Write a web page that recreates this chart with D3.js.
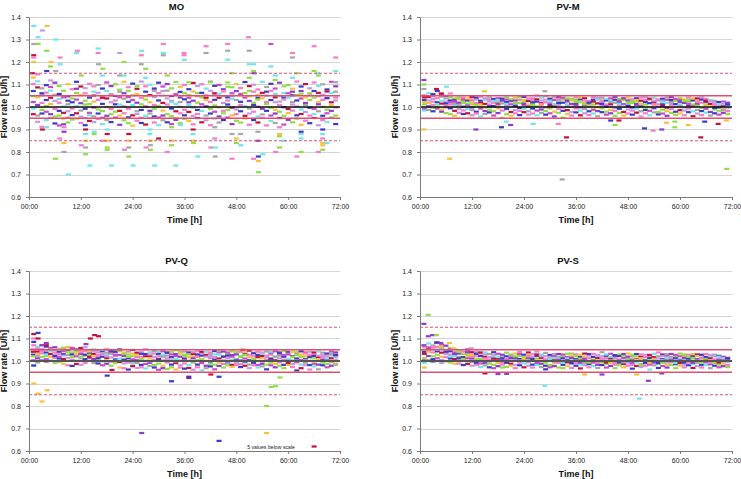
<!DOCTYPE html>
<html><head><meta charset="utf-8">
<script src="https://cdn.jsdelivr.net/npm/d3@7"></script>
<style>
body{margin:0;background:#fff}
svg{display:block}
text{font-family:"Liberation Sans",Arial,sans-serif}
</style>
</head><body>
<svg id="c" width="741" height="479"></svg>
<script>
// ---------------- data ----------------
const timeTicks = [0, 12, 24, 36, 48, 60, 72];
const timeLabels = ["00:00", "12:00", "24:00", "36:00", "48:00", "60:00", "72:00"];
const flowTicks = [0.6, 0.7, 0.8, 0.9, 1.0, 1.1, 1.2, 1.3, 1.4];
const targetLevel = 1.0;
const innerLimits = [0.95, 1.05];
const outerLimits = [0.85, 1.15];
const panelTitles = ["MO", "PV-M", "PV-Q", "PV-S"];
const belowScaleNote = "5 values below scale";

// dense readings: one row per hour (row index 0 = 01:00), values in U/h
const moBand = [
[1.102,1.071,1.048,1.022,0.993,0.968,1.131],[1.114,1.087,1.043,1.009,0.962,0.934],[1.083,1.052,1.018,0.987,0.971,0.912,1.061],
[1.097,1.064,1.031,1.004,0.979,0.942],[1.089,1.073,1.041,1.013,0.968,0.951,1.118],[1.108,1.054,1.027,0.991,0.958,0.927],
[1.093,1.058,1.019,0.983,0.962,0.918,1.036],[1.072,1.043,1.002,0.974,0.949,0.923],[1.101,1.047,1.012,0.981,0.953,0.931,1.028],
[1.079,1.038,1.021,0.993,0.964,0.944],[1.112,1.062,1.033,1.003,0.972,0.948,1.081],[1.091,1.053,1.017,0.984,0.957,0.929],
[1.084,1.061,1.028,0.992,0.951,0.919,1.011],[1.103,1.042,1.013,0.974,0.963,0.938],[1.068,1.051,1.024,0.998,0.958,0.933,1.092],
[1.098,1.063,1.032,0.989,0.971,0.947],[1.082,1.047,1.014,0.982,0.952,0.924,1.041],[1.109,1.071,1.038,1.001,0.961,0.942],
[1.093,1.057,1.021,0.991,0.968,0.933,1.052],[1.101,1.049,1.029,1.012,0.979,0.953],[1.077,1.043,1.011,0.983,0.962,0.921,1.068],
[1.112,1.061,1.037,1.003,0.972,0.941],[1.088,1.072,1.023,0.992,0.954,0.928,1.044],[1.104,1.052,1.031,1.009,0.963,0.917],
[1.081,1.058,1.019,0.981,0.969,0.939,1.093],[1.113,1.041,1.012,0.987,0.952,0.929],[1.092,1.068,1.033,1.002,0.961,0.922,1.048],
[1.099,1.053,1.021,0.983,0.971,0.951],[1.072,1.044,1.009,0.992,0.958,0.931,1.082],[1.108,1.062,1.029,1.004,0.953,0.919],
[1.091,1.051,1.018,0.984,0.962,0.941,1.071],[1.102,1.073,1.038,1.011,0.968,0.932],[1.083,1.049,1.027,0.993,0.959,0.924,1.022],
[1.111,1.057,1.013,0.981,0.951,0.943],[1.089,1.042,1.022,1.001,0.972,0.928,1.067],[1.098,1.061,1.034,0.988,0.963,0.947],
[1.079,1.053,1.041,1.009,0.978,0.938,1.021],[1.107,1.069,1.028,0.998,0.961,0.923],[1.093,1.048,1.019,0.987,0.969,0.951,1.062],
[1.101,1.063,1.043,1.012,0.982,0.932],[1.082,1.041,1.031,1.003,0.962,0.941,1.052],[1.113,1.072,1.022,0.991,0.971,0.919],
[1.094,1.052,1.032,1.007,0.979,0.948,1.061],[1.098,1.059,1.041,0.998,0.958,0.931],[1.079,1.048,1.018,0.983,0.972,0.942,1.069],
[1.109,1.043,1.029,1.011,0.987,0.953],[1.088,1.061,1.037,0.997,0.963,0.924,1.049],[1.102,1.071,1.031,0.989,0.968,0.939],
[1.084,1.052,1.023,1.008,0.981,0.931,1.058],[1.111,1.062,1.042,1.003,0.961,0.949],[1.093,1.048,1.027,0.993,0.971,0.921,1.072],
[1.099,1.068,1.019,1.009,0.979,0.942],[1.078,1.041,1.033,1.001,0.958,0.931,1.053],[1.112,1.063,1.039,0.992,0.967,0.952],
[1.089,1.051,1.022,1.013,0.983,0.918,1.068],[1.103,1.072,1.031,0.997,0.962,0.938],[1.082,1.058,1.043,0.988,0.971,0.929,1.021],
[1.108,1.049,1.024,1.008,0.979,0.951],[1.092,1.042,1.033,0.999,0.961,0.922,1.062],[1.098,1.061,1.041,0.991,0.973,0.943],
[1.081,1.068,1.022,1.011,0.984,0.932,1.052],[1.113,1.053,1.029,1.002,0.963,0.948],[1.091,1.059,1.038,0.989,0.969,0.921,1.071],
[1.102,1.043,1.018,1.009,0.978,0.939],[1.083,1.052,1.031,0.997,0.962,0.928,1.061],[1.109,1.071,1.042,0.992,0.968,0.951],
[1.093,1.063,1.023,1.012,0.981,0.919,1.048],[1.101,1.054,1.032,1.001,0.961,0.942],[1.078,1.041,1.039,0.988,0.972,0.933,1.069],
[1.112,1.062,1.021,1.008,0.983,0.953],[1.092,1.068,1.029,0.998,0.962,0.924,1.042]
];
// isolated readings: [hour, value, colour index]
const moOut = [
[1.1,1.36,1],[3.1,1.34,9],[4.2,1.36,2],[2.1,1.31,1],[6.2,1.30,1],[1.1,1.28,4],[2.1,1.28,3],[4.1,1.25,3],
[11.2,1.25,0],[11.0,1.24,1],[16.0,1.26,1],[16.0,1.24,0],[21.0,1.24,9],[26.1,1.25,1],[26.0,1.23,0],
[31.1,1.28,0],[31.1,1.24,1],[31.1,1.23,4],[35.9,1.24,0],[35.9,1.23,0],[36.0,1.21,1],
[1.1,1.23,7],[1.1,1.22,0],[1.1,1.20,2],[5.1,1.20,2],[7.2,1.22,0],[7.2,1.19,1],[5.0,1.18,3],[4.1,1.16,5],[6.2,1.16,4],
[17.1,1.17,3],[16.1,1.19,4],[22.0,1.20,3],[26.0,1.19,4],[27.0,1.17,3],[12.1,1.14,3],[17.0,1.14,1],[21.0,1.14,4],
[22.0,1.14,1],[27.0,1.13,1],[32.0,1.14,3],[0.8,1.15,7],[2.0,1.145,0],
[50.8,1.31,0],[56.0,1.28,8],[41.0,1.27,0],[46.0,1.28,0],[46.0,1.25,4],[51.0,1.25,4],[61.0,1.24,0],[61.0,1.22,4],
[66.0,1.27,0],[71.0,1.22,0],[41.0,1.24,4],[46.0,1.21,1],[51.0,1.19,1],[52.0,1.19,1],[56.0,1.18,1],[51.0,1.13,3],
[52.0,1.16,3],[52.1,1.15,6],[57.0,1.14,1],[57.0,1.12,3],[61.0,1.13,1],[62.0,1.15,3],[66.0,1.16,3],[66.8,1.15,1],
[67.0,1.14,3],[71.0,1.16,1],[47.0,1.15,3],[42.0,1.11,3],[46.0,1.09,3],[71.0,1.11,4],[37.0,1.11,3],
[9.1,0.70,1],[6.1,0.77,3],[8.1,0.80,4],[14.1,0.74,1],[13.1,0.79,3],[19.1,0.74,1],[23.1,0.78,3],[24.1,0.74,1],
[29.1,0.74,1],[34.0,0.74,1],[8.1,0.84,2],[7.1,0.86,0],[12.1,0.83,0],[13.1,0.82,4],[18.1,0.82,3],[18.1,0.81,3],
[17.1,0.85,0],[18.1,0.85,2],[13.1,0.85,2],[23.1,0.85,2],[23.1,0.82,4],[22.1,0.81,0],[28.1,0.85,2],[28.1,0.83,4],
[27.1,0.82,0],[28.1,0.81,3],[30.0,0.86,7],[33.0,0.85,2],[33.0,0.83,3],[32.0,0.80,0],
[8.1,0.91,0],[8.1,0.89,6],[3.1,0.90,7],[4.1,0.91,1],[13.1,0.90,7],[18.1,0.88,7],[23.1,0.88,7],[18.1,0.90,1],
[13.1,0.88,1],[15.1,0.88,3],[15.1,0.89,1],[28.0,0.88,1],[28.0,0.90,1],[33.0,0.91,3],[35.1,0.92,1],
[39.1,0.78,1],[43.1,0.78,4],[47.0,0.77,0],[53.1,0.76,2],[53.1,0.71,3],[53.1,0.78,5],[54.1,0.79,1],[52.0,0.77,0],
[57.1,0.80,0],[62.0,0.78,0],[63.0,0.80,3],[67.0,0.80,0],[42.1,0.82,0],[43.1,0.82,1],[38.1,0.84,3],[38.0,0.85,2],
[48.0,0.86,2],[48.0,0.84,3],[49.0,0.83,1],[58.0,0.82,3],[59.0,0.85,1],[68.0,0.84,2],[68.0,0.83,2],[68.0,0.81,3],
[69.0,0.84,1],[68.0,0.88,1],[68.0,0.90,5],[68.0,0.86,0],[63.0,0.88,1],[63.0,0.86,1],[63.0,0.89,5],[58.0,0.88,2],
[58.0,0.87,3],[58.0,0.91,0],[53.0,0.89,4],[53.0,0.85,6],[49.0,0.88,4],[43.0,0.91,4],[43.0,0.86,0],[38.0,0.90,7],
[38.0,0.88,1],[47.0,0.88,4]
];

const pvmBand = [
[1.052,1.031,1.012,0.991,0.984,1.043,1.022],[1.061,1.044,1.018,1.003,0.987,1.029],[1.048,1.036,1.009,0.996,0.981,1.024,1.057],
[1.071,1.039,1.021,1.002,0.993,1.013],[1.058,1.027,1.015,0.989,0.979,1.046],[1.049,1.038,1.024,1.006,0.973,1.016,0.998],
[1.043,1.029,1.011,0.994,0.968,1.021],[1.038,1.022,1.004,0.983,0.961,1.031,1.014],[1.034,1.019,1.008,0.992,0.974,1.042],
[1.041,1.026,1.001,0.985,0.969,1.017,1.033],[1.029,1.015,1.007,0.991,0.972,1.038],[1.044,1.023,0.998,0.986,0.963,1.031,1.012],
[1.033,1.017,1.009,0.979,0.971,1.042],[1.046,1.028,1.002,0.993,0.958,1.019,1.011],[1.031,1.014,0.997,0.982,0.969,1.039],
[1.042,1.024,1.011,0.988,0.976,1.032,1.003],[1.036,1.019,1.004,0.981,0.962,1.027],[1.039,1.031,1.013,0.994,0.973,1.021,1.006],
[1.028,1.016,0.999,0.984,0.952,1.037],[1.043,1.022,1.008,0.991,0.968,1.033,1.014],[1.034,1.012,1.001,0.978,0.961,1.026],
[1.041,1.029,1.013,0.986,0.972,1.019,1.004],[1.032,1.018,0.996,0.983,0.964,1.044],[1.045,1.023,1.009,0.992,0.977,1.031,1.014],
[1.027,1.011,1.002,0.981,0.966,1.038],[1.039,1.032,1.014,0.993,0.971,1.021,1.006],[1.051,1.024,1.003,0.984,0.963,1.034],
[1.042,1.017,1.008,0.989,0.974,1.029,1.013],[1.048,1.033,0.998,0.982,0.966,1.021],[1.037,1.021,1.011,0.994,0.972,1.027,1.004],
[1.031,1.013,1.002,0.979,0.958,1.043],[1.044,1.028,1.009,0.991,0.974,1.018,1.036],[1.033,1.019,0.997,0.983,0.953,1.041],
[1.038,1.024,1.012,0.986,0.969,1.029,1.003],[1.029,1.014,1.001,0.978,0.962,1.037],[1.042,1.031,1.013,0.993,0.976,1.022,1.006],
[1.034,1.021,0.998,0.984,0.963,1.042],[1.039,1.018,1.009,0.991,0.972,1.028,1.012],[1.027,1.012,1.003,0.981,0.964,1.019],
[1.043,1.032,1.011,0.988,0.971,1.024,0.997],[1.033,1.016,0.999,0.982,0.959,1.041],[1.041,1.023,1.008,0.994,0.977,1.029,1.014],
[1.029,1.011,1.002,0.979,0.966,1.036],[1.038,1.027,1.013,0.987,0.972,1.021,1.004],[1.044,1.019,0.996,0.983,0.961,1.032],
[1.036,1.022,1.007,0.992,0.974,1.028,1.015],[1.031,1.013,1.001,0.978,0.962,1.039],[1.042,1.029,1.012,0.989,0.971,1.019,1.004],
[1.034,1.018,0.998,0.984,0.966,1.026],[1.039,1.024,1.009,0.993,0.975,1.031,1.013],[1.028,1.014,1.003,0.981,0.958,1.042],
[1.043,1.031,1.011,0.987,0.972,1.022,0.997],[1.033,1.017,0.999,0.983,0.963,1.037],[1.041,1.023,1.008,0.994,0.976,1.028,1.013],
[1.029,1.012,1.002,0.978,0.967,1.034],[1.037,1.026,1.014,0.988,0.971,1.021,1.005],[1.032,1.019,0.997,0.982,0.961,1.042],
[1.044,1.022,1.009,0.991,0.974,1.031,1.014],[1.027,1.013,1.001,0.979,0.965,1.036],[1.039,1.031,1.012,0.986,0.972,1.023,1.004],
[1.034,1.018,0.998,0.984,0.963,1.027],[1.042,1.024,1.007,0.993,0.977,1.031,1.014],[1.029,1.011,1.003,0.981,0.959,1.038],
[1.038,1.027,1.013,0.987,0.971,1.022,1.006],[1.043,1.019,0.996,0.982,0.964,1.033],[1.036,1.023,1.008,0.992,0.975,1.028,1.012],
[1.031,1.014,1.002,0.978,0.962,1.026],[1.027,1.019,1.011,0.989,0.972,1.004,0.996],[1.022,1.009,0.998,0.983,0.966,1.013],
[1.024,1.013,1.003,0.991,0.974,0.986,1.017],[1.019,1.008,0.997,0.982,0.969,1.011]
];
const pvmOut = [
[0.9,1.12,6],[0.9,1.10,3],[0.9,1.08,4],[0.9,0.90,2],[3.8,1.08,7],[4.9,1.06,7],[6.1,1.09,1],[7.0,1.06,0],
[14.9,1.07,2],[12.9,0.90,6],[18.8,0.91,5],[19.9,0.935,1],[20.9,0.92,6],[26.1,0.925,1],[28.8,1.07,4],[31.9,0.925,0],
[33.8,0.865,7],[44.0,0.94,5],[45.0,0.92,3],[45.9,0.94,7],[51.8,0.905,5],[53.8,0.895,0],[55.8,0.90,6],[56.9,0.93,2],
[58.8,0.91,3],[58.8,0.935,3],[61.9,0.92,2],[64.8,0.865,7],[65.7,0.935,5],[68.8,0.925,7],[70.7,0.94,2],[70.8,0.725,3],
[6.8,0.77,2],[32.8,0.678,4]
];

const pvqBand = [
[1.052,1.028,1.021,1.003,0.979,1.041],[1.063,1.042,1.031,1.012,0.993,1.022,1.054],[1.071,1.053,1.034,1.018,1.002,1.044],
[1.064,1.048,1.037,1.023,1.008,1.029,0.998],[1.058,1.043,1.031,1.019,1.001,1.052],[1.061,1.049,1.028,1.014,0.992,1.022,1.038],
[1.054,1.041,1.032,1.011,0.997,1.019],[1.059,1.044,1.024,1.009,0.988,1.031,1.051],[1.062,1.048,1.027,1.013,0.981,1.039],
[1.054,1.038,1.029,1.006,0.978,1.018,1.058],[1.051,1.042,1.021,1.002,0.987,1.033],[1.058,1.047,1.031,1.012,0.983,1.039,1.019],
[1.061,1.043,1.024,1.008,0.992,1.028],[1.048,1.037,1.026,1.013,1.001,1.019,1.042],[1.052,1.032,1.021,1.009,0.991,1.044],
[1.047,1.038,1.018,1.002,0.989,1.027,1.012],[1.043,1.031,1.019,0.998,0.981,1.049],[1.051,1.029,1.013,1.003,0.988,1.037,1.021],
[1.039,1.032,1.016,0.997,0.979,1.046],[1.048,1.041,1.022,1.007,0.991,1.028,1.001],[1.044,1.027,1.011,0.996,0.971,1.052],
[1.038,1.023,1.009,0.989,0.968,1.031,1.004],[1.042,1.029,1.012,0.993,0.962,1.018],[1.049,1.021,1.007,0.988,0.977,1.033,0.999],
[1.037,1.026,1.003,0.991,0.969,1.017],[1.041,1.019,1.008,0.983,0.972,1.032,1.001],[1.052,1.031,1.002,0.987,0.967,1.021],
[1.039,1.022,1.011,0.992,0.978,1.029,0.998],[1.044,1.018,1.004,0.982,0.971,1.033],[1.032,1.021,1.009,0.988,0.961,1.041,1.002],
[1.043,1.027,1.001,0.979,0.968,1.019],[1.036,1.024,1.012,0.993,0.964,1.038,1.003],[1.041,1.017,1.003,0.984,0.972,1.029],
[1.048,1.022,1.009,0.991,0.962,1.031,0.998],[1.033,1.019,1.002,0.981,0.971,1.042],[1.042,1.023,1.011,0.989,0.966,1.028,1.004],
[1.038,1.029,1.001,0.982,0.969,1.017],[1.031,1.021,1.012,0.993,0.961,1.039,0.997],[1.043,1.018,1.004,0.984,0.972,1.029],
[1.036,1.024,1.009,0.991,0.958,1.041,1.002],[1.041,1.027,1.001,0.979,0.968,1.019],[1.032,1.022,1.013,0.988,0.976,1.038,0.998],
[1.044,1.017,1.006,0.983,0.963,1.029],[1.038,1.028,1.011,0.992,0.978,1.043,1.003],[1.042,1.021,1.003,0.987,0.971,1.019],
[1.031,1.024,1.012,0.994,0.981,1.038,0.998],[1.043,1.019,1.006,0.983,0.974,1.027],[1.037,1.029,1.009,0.991,0.982,1.041,1.002],
[1.041,1.022,1.002,0.986,0.973,1.018],[1.033,1.026,1.011,0.993,0.979,1.039,0.997],[1.046,1.018,1.004,0.984,0.968,1.028],
[1.038,1.021,1.009,0.992,0.981,1.034,1.003],[1.041,1.027,1.001,0.982,0.971,1.017],[1.029,1.022,1.012,0.988,0.976,1.038,0.998],
[1.042,1.017,1.006,0.984,0.963,1.024],[1.037,1.028,1.011,0.993,0.981,1.041,1.003],[1.043,1.021,1.003,0.987,0.972,1.019],
[1.032,1.024,1.012,0.994,0.979,1.038,0.997],[1.044,1.019,1.006,0.983,0.968,1.027],[1.036,1.029,1.009,0.991,0.982,1.041,1.002],
[1.041,1.022,1.002,0.986,0.973,1.018],[1.031,1.026,1.011,0.993,0.958,1.039,0.997],[1.043,1.018,1.004,0.984,0.968,1.028],
[1.037,1.021,1.009,0.992,0.981,1.034,1.003],[1.041,1.027,1.001,0.982,0.962,1.017],[1.029,1.022,1.012,0.988,0.976,1.038,0.998],
[1.042,1.017,1.006,0.984,0.963,1.024],[1.037,1.028,1.011,0.993,0.981,1.019,1.003],[1.033,1.021,1.003,0.987,0.972,1.012],
[1.042,1.024,1.012,0.994,0.979,1.031,0.997],[1.038,1.019,1.006,0.983,0.988,1.027]
];
const pvqOut = [
[1.1,1.12,7],[2.1,1.125,5],[1.1,1.10,0],[2.1,1.10,7],[1.1,1.085,5],[1.1,1.07,0],[1.1,0.98,5],[1.1,0.90,2],
[2.1,0.855,2],[4.2,0.87,2],[3.0,0.82,2],[14.2,1.10,7],[15.2,1.115,7],[16.1,1.11,7],[13.2,1.075,6],[19.2,0.96,7],
[18.1,0.935,5],[26.1,0.68,6],[33.0,0.91,5],[37.0,0.925,7],[37.0,0.93,5],[44.0,0.645,5],[42.1,0.94,7],[44.0,0.93,5],
[55.0,0.80,3],[55.0,0.68,2],[56.1,0.885,3],[57.1,0.888,3],[58.1,0.927,3],[66.0,0.62,7],[49.5,1.05,7],[4.0,1.08,6],
[4.0,1.07,7],[3.0,1.07,6]
];

const pvsBand = [
[1.063,1.041,1.012,1.003,0.992,1.032,0.971],[1.078,1.058,1.041,1.022,1.004,1.049],[1.069,1.052,1.038,1.021,1.008,1.061,0.998],
[1.082,1.063,1.043,1.028,1.012,1.051],[1.072,1.054,1.037,1.019,1.002,1.061,0.991],[1.068,1.049,1.031,1.017,0.998,1.041],
[1.058,1.043,1.028,1.011,0.993,1.052,1.021],[1.052,1.038,1.022,1.009,0.988,1.031],[1.048,1.033,1.018,1.002,0.989,1.041,1.012],
[1.042,1.031,1.017,1.001,0.982,1.009],[1.051,1.029,1.012,0.998,0.987,1.022,1.039],[1.039,1.027,1.011,0.996,0.979,1.018],
[1.041,1.021,1.008,0.991,0.983,1.032,1.002],[1.033,1.022,1.009,0.989,0.973,1.038],[1.038,1.019,1.003,0.992,0.981,1.029,1.011],
[1.031,1.018,1.007,0.988,0.972,0.998],[1.039,1.027,1.002,0.983,0.968,1.021,1.011],[1.032,1.019,1.008,0.991,0.977,1.001],
[1.028,1.017,1.003,0.984,0.971,1.011,0.993],[1.037,1.021,1.009,0.992,0.974,1.002],[1.029,1.018,1.001,0.988,0.979,1.012,1.024],
[1.033,1.013,1.004,0.983,0.968,1.021],[1.041,1.022,1.009,0.993,0.981,1.002,1.031],[1.028,1.017,1.003,0.989,0.972,1.011],
[1.038,1.027,1.012,0.994,0.979,1.021,1.004],[1.031,1.019,1.001,0.984,0.971,1.009],[1.042,1.023,1.011,0.991,0.982,1.029,1.003],
[1.029,1.014,1.002,0.988,0.973,1.021],[1.036,1.021,1.008,0.993,0.979,1.004,0.963],[1.027,1.018,1.001,0.982,0.972,1.011],
[1.022,1.013,1.003,0.989,0.977,1.031,0.996],[1.031,1.019,1.009,0.992,0.971,1.002],[1.021,1.012,1.001,0.983,0.968,1.029,0.993],
[1.032,1.018,1.011,0.994,0.978,1.004],[1.023,1.014,1.002,0.987,0.969,1.033,0.991],[1.029,1.021,1.008,0.991,0.979,1.002],
[1.018,1.011,1.003,0.984,0.967,1.028,0.993],[1.033,1.019,1.009,0.992,0.981,1.001],[1.024,1.012,0.998,0.986,0.972,1.031,0.993],
[1.031,1.018,1.006,0.993,0.978,1.001],[1.022,1.013,1.002,0.983,0.969,1.027,0.991],[1.039,1.021,1.011,0.994,0.982,1.003],
[1.023,1.014,1.001,0.987,0.971,1.029,0.993],[1.032,1.018,1.009,0.991,0.978,1.003],[1.021,1.011,0.998,0.984,0.968,1.026,0.992],
[1.029,1.022,1.007,0.993,0.981,1.002],[1.024,1.013,1.003,0.987,0.972,1.031,0.994],[1.033,1.019,1.008,0.992,0.979,1.001],
[1.022,1.011,1.002,0.983,0.966,1.028,0.991],[1.031,1.021,1.009,0.994,0.978,1.004],[1.019,1.012,1.001,0.986,0.973,1.029,0.982],
[1.028,1.018,1.006,0.991,0.979,1.002],[1.023,1.013,1.003,0.984,0.962,1.027,0.993],[1.032,1.017,1.009,0.993,0.981,1.001],
[1.021,1.011,0.998,0.987,0.969,1.038,0.991],[1.029,1.022,1.008,0.992,0.978,1.003],[1.024,1.013,1.002,0.983,0.971,1.031,0.993],
[1.031,1.018,1.009,0.994,0.982,1.002],[1.022,1.012,1.001,0.986,0.968,1.027,0.991],[1.033,1.021,1.007,0.991,0.979,1.003],
[1.023,1.014,1.003,0.984,0.972,1.029,0.993],[1.028,1.019,1.009,0.993,0.981,1.001],[1.021,1.011,0.998,0.987,0.969,1.031,0.992],
[1.029,1.022,1.008,0.992,0.978,1.002],[1.024,1.013,1.003,0.983,0.971,1.028,0.993],[1.031,1.018,1.009,0.994,0.982,1.001],
[1.022,1.012,1.001,0.986,0.968,1.027,0.991],[1.028,1.021,1.007,0.991,0.979,1.003],[1.023,1.014,1.003,0.984,0.972,1.019,0.993],
[1.019,1.011,1.002,0.988,0.977,0.998],[1.014,1.008,0.997,0.983,0.973,1.011]
];
const pvsOut = [
[1.9,1.205,3],[0.9,1.165,6],[1.9,1.11,6],[2.9,1.115,6],[3.8,1.115,3],[3.8,1.082,5],[4.8,1.08,6],[6.8,1.08,2],
[4.8,1.065,2],[7.7,1.056,2],[11.8,1.056,0],[28.8,0.89,1],[50.6,0.833,1],[52.7,0.912,6],[50.0,0.94,2],[15.0,0.945,7],
[20.0,0.943,6],[18.0,0.942,6],[38.0,0.94,2],[42.0,0.94,6],[55.8,0.945,6],[0.9,1.07,6],[0.9,1.05,2],[2.0,1.06,8]
];

// ---------------- style ----------------
const palette = ["#f47cc8","#6ee6ee","#f6c23e","#92dc48","#a6a6a6","#3a3ac4","#8a3ed0","#c4103c","#c84cc8","#c49ae6"];
const bandColourOrder = [0,5,3,8,1,7,2,6,4,9,0,3,5];

const panels = [
  {title: panelTitles[0], band: moBand,  out: moOut,  x0: 29,  x1: 340, y0: 17,  y1: 197, ref: "#111", refW: 1.5},
  {title: panelTitles[1], band: pvmBand, out: pvmOut, x0: 420, x1: 732, y0: 17,  y1: 197, ref: "#111", refW: 1.5},
  {title: panelTitles[2], band: pvqBand, out: pvqOut, x0: 29,  x1: 340, y0: 271, y1: 451, ref: "#555", refW: 2.2, note: true},
  {title: panelTitles[3], band: pvsBand, out: pvsOut, x0: 420, x1: 732, y0: 271, y1: 451, ref: "#555", refW: 2.2}
];

const svg = d3.select("#c");

panels.forEach(p => {
  const x = d3.scaleLinear().domain([0, 72]).range([p.x0, p.x1]);
  const y = d3.scaleLinear().domain([0.6, 1.4]).range([p.y1, p.y0]);
  const g = svg.append("g");

  // gridlines
  g.selectAll("line.grid").data(flowTicks.slice(1)).enter().append("line")
    .attr("x1", p.x0).attr("x2", p.x1)
    .attr("y1", d => Math.round(y(d)) + 0.5).attr("y2", d => Math.round(y(d)) + 0.5)
    .attr("stroke", "#d4d4d4").attr("stroke-width", 1);

  // points
  const pts = [];
  p.band.forEach((col, i) => col.forEach((v, j) =>
    pts.push({t: i + 1, v: v, c: bandColourOrder[(i * 4 + j) % bandColourOrder.length]})));
  p.out.forEach(d => pts.push({t: d[0], v: d[1], c: d[2]}));
  g.selectAll("rect.pt").data(pts).enter().append("rect")
    .attr("x", d => x(d.t) - 2.5).attr("y", d => y(d.v) - 1.1)
    .attr("width", 5).attr("height", 2.2)
    .attr("fill", d => palette[d.c]);

  // limit lines
  outerLimits.forEach(l => g.append("line")
    .attr("x1", p.x0).attr("x2", p.x1).attr("y1", y(l)).attr("y2", y(l))
    .attr("stroke", "#e0506e").attr("stroke-width", 1.2).attr("stroke-dasharray", "3,2"));
  innerLimits.forEach(l => g.append("line")
    .attr("x1", p.x0).attr("x2", p.x1).attr("y1", y(l)).attr("y2", y(l))
    .attr("stroke", "#e0506e").attr("stroke-width", 1.5));
  g.append("line")
    .attr("x1", p.x0).attr("x2", p.x1).attr("y1", y(targetLevel)).attr("y2", y(targetLevel))
    .attr("stroke", p.ref).attr("stroke-width", p.refW);

  // axes
  const ax = g.append("g").attr("transform", `translate(0,${p.y1})`)
    .call(d3.axisBottom(x).tickValues(timeTicks).tickFormat((d, i) => timeLabels[i]).tickSize(3).tickSizeOuter(0));
  const ay = g.append("g").attr("transform", `translate(${p.x0},0)`)
    .call(d3.axisLeft(y).tickValues(flowTicks).tickFormat(d3.format(".1f")).tickSize(3).tickSizeOuter(0));
  [ax, ay].forEach(a => {
    a.select(".domain").attr("stroke", "#7a7a7a");
    a.selectAll(".tick line").attr("stroke", "#7a7a7a");
    a.selectAll("text").attr("font-size", 7).attr("fill", "#222")
      .attr("font-family", '"Liberation Sans",Arial,sans-serif');
  });
  ax.selectAll("text").attr("dy", "0.9em");
  ay.selectAll("text").attr("dx", "-2");

  const cx = (p.x0 + p.x1) / 2;
  // titles
  g.append("text").attr("x", cx - 8).attr("y", p.y0 - 7).attr("text-anchor", "middle")
    .attr("font-size", 9.5).attr("font-weight", "bold").attr("fill", "#111").text(p.title);
  g.append("text").attr("x", cx).attr("y", p.y1 + 26).attr("text-anchor", "middle")
    .attr("font-size", 9).attr("font-weight", "bold").attr("fill", "#111").text("Time [h]");
  g.append("text").attr("transform", `translate(${p.x0 - 22},${(p.y0 + p.y1) / 2}) rotate(-90)`)
    .attr("text-anchor", "middle").attr("font-size", 9).attr("font-weight", "bold").attr("fill", "#111")
    .text("Flow rate [U/h]");

  if (p.note) {
    g.append("text").attr("x", x(50.5)).attr("y", y(0.62) + 2).attr("font-size", 5.2).attr("fill", "#222")
      .text(belowScaleNote);
  }
});
</script>
</body></html>
